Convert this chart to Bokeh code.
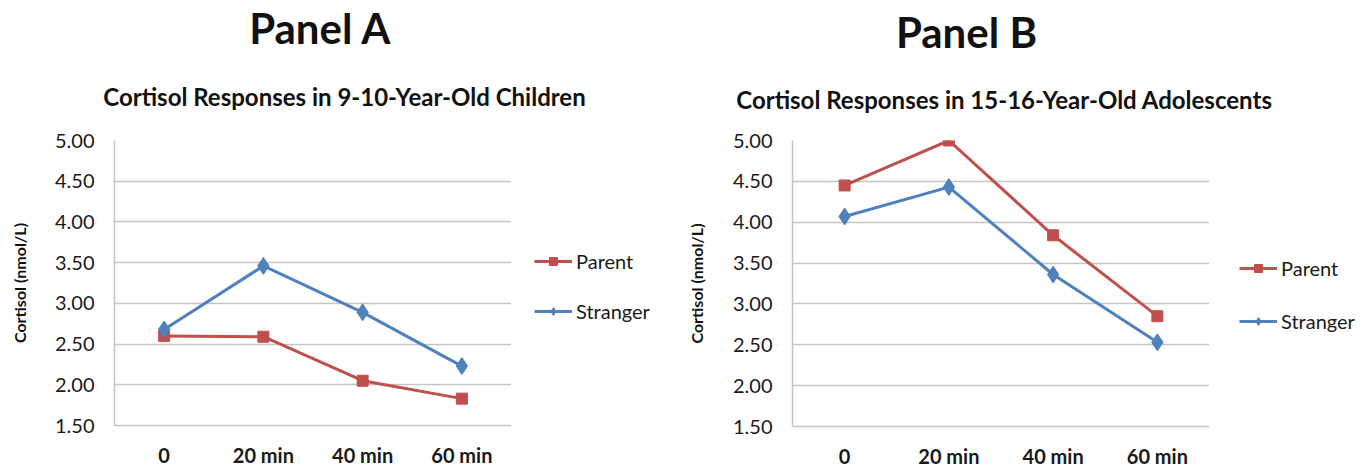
from bokeh.plotting import figure
from bokeh.layouts import row, column
from bokeh.models import Legend, LegendItem, FixedTicker, PrintfTickFormatter, Range1d, FactorRange, Label
from bokeh.embed import file_html
from bokeh.resources import INLINE

# ---- data ----
categories = ["0", "20 min", "40 min", "60 min"]
y_ticks = [1.5, 2.0, 2.5, 3.0, 3.5, 4.0, 4.5, 5.0]

a_parent = [2.60, 2.59, 2.05, 1.83]
a_stranger = [2.68, 3.46, 2.89, 2.23]

b_parent = [4.45, 5.00, 3.84, 2.85]
b_stranger = [4.07, 4.43, 3.36, 2.53]

panel_a_title = "Panel A"
panel_a_sub = "Cortisol Responses in 9-10-Year-Old Children"
panel_b_title = "Panel B"
panel_b_sub = "Cortisol Responses in 15-16-Year-Old Adolescents"
y_label = "Cortisol (nmol/L)"
series_names = ["Parent", "Stranger"]

RED = "#C0504D"
BLUE = "#4F81BD"
GRID = "#C4C4C4"
FONT = "Lato"
TXT = "#1a1a1a"
TITLE_H = 120
MAIN_H = 340

STYLE = {
    "Parent": dict(color=RED, marker="square", size=11),
    "Stranger": dict(color=BLUE, marker="diamond", size=17),
}


def bare_fig(width, height, rng=(0, 1)):
    f = figure(width=width, height=height, x_range=Range1d(*rng), y_range=Range1d(*rng),
               min_border=0, output_backend="svg", toolbar_location=None, title=None)
    f.axis.visible = False
    f.grid.visible = False
    f.outline_line_color = None
    return f


def make_title_fig(title, sub, width, title_xy, sub_xy):
    t = bare_fig(width, TITLE_H)
    t.add_layout(Label(x=title_xy[0], y=title_xy[1], x_units="screen", y_units="screen",
                       text=title, text_align="center", text_baseline="middle",
                       text_font=FONT, text_font_size="42px", text_font_style="bold",
                       text_color="#111111"))
    t.add_layout(Label(x=sub_xy[0], y=sub_xy[1], x_units="screen", y_units="screen",
                       text=sub, text_align="center", text_baseline="middle",
                       text_font=FONT, text_font_size="24px", text_font_style="bold",
                       text_color="#111111"))
    return t


def series(p, xs, ys, name):
    st = STYLE[name]
    ln = p.line(xs, ys, line_color=st["color"], line_width=3)
    sc = p.scatter(xs, ys, marker=st["marker"], size=st["size"],
                   fill_color=st["color"], line_color=st["color"])
    return [ln, sc]


def make_legend_fig(width, leg_xy, leg_spacing, values):
    # legend-only canvas: the series are drawn outside its visible range,
    # so only the legend entries (line + marker) show
    f = bare_fig(width, MAIN_H, rng=(100, 101))
    idx = list(range(len(categories)))
    items = []
    for name, vals in zip(series_names, values):
        rs = series(f, idx, vals, name)
        items.append(LegendItem(label=name, renderers=rs))
    legend = Legend(items=items, location=leg_xy, orientation="vertical",
                    glyph_width=38, glyph_height=20, label_height=20,
                    spacing=leg_spacing, padding=0, margin=0, label_standoff=4,
                    border_line_color=None, background_fill_alpha=0,
                    label_text_font=FONT, label_text_font_size="20px", label_text_color=TXT)
    f.add_layout(legend)
    return f


def make_panel(parent, stranger, bl, bt, bb, fw, fh, ylab_standoff):
    p = figure(x_range=FactorRange(*categories), y_range=Range1d(1.5, 5.0),
               frame_width=fw, frame_height=fh,
               min_border_left=bl, min_border_top=bt, min_border_bottom=bb, min_border_right=0,
               output_backend="svg", toolbar_location=None, title=None)
    p.outline_line_color = None
    p.background_fill_color = "white"
    p.border_fill_color = "white"

    p.xgrid.grid_line_color = None
    p.ygrid.grid_line_color = GRID
    p.ygrid.grid_line_width = 1.5
    p.yaxis.ticker = FixedTicker(ticks=y_ticks)
    p.yaxis.formatter = PrintfTickFormatter(format="%.2f")

    for ax in (p.xaxis[0], p.yaxis[0]):
        ax.axis_line_color = GRID
        ax.axis_line_width = 1.5
        ax.major_tick_line_color = None
        ax.minor_tick_line_color = None
        ax.major_tick_in = 0
        ax.major_tick_out = 0
        ax.major_label_text_font = FONT
        ax.major_label_text_font_size = "20px"
        ax.major_label_text_color = TXT
    p.xaxis.major_label_text_font_style = "bold"
    p.xaxis.major_label_standoff = 17
    p.yaxis.major_label_standoff = 20
    p.yaxis.axis_label = y_label
    p.yaxis.axis_label_text_font = FONT
    p.yaxis.axis_label_text_font_size = "16px"
    p.yaxis.axis_label_text_font_style = "bold"
    p.yaxis.axis_label_text_color = "#111111"
    p.yaxis.axis_label_standoff = ylab_standoff

    series(p, categories, parent, "Parent")
    series(p, categories, stranger, "Stranger")
    return p


ta = make_title_fig(panel_a_title, panel_a_sub, 683, title_xy=(320, 93), sub_xy=(344, 24))
tb = make_title_fig(panel_b_title, panel_b_sub, 683, title_xy=(283, 89), sub_xy=(321, 21))

pa = make_panel(a_parent, a_stranger, bl=114, bt=17, bb=38, fw=397, fh=285, ylab_standoff=23)
la = make_legend_fig(172, leg_xy=(23, 93), leg_spacing=26, values=[a_parent, a_stranger])
pb = make_panel(b_parent, b_stranger, bl=98, bt=20, bb=34, fw=417, fh=286, ylab_standoff=24)
lb = make_legend_fig(160, leg_xy=(30, 83), leg_spacing=29, values=[b_parent, b_stranger])

layout = column(row(ta, tb), row(pa, la, pb, lb))
open("out.html", "w").write(file_html(layout, INLINE))
